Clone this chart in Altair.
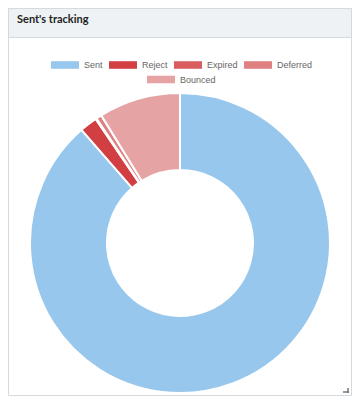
import altair as alt
import pandas as pd

categories = ["Sent", "Reject", "Expired", "Deferred", "Bounced"]
values = [886, 19, 1, 6, 88]
colors = ["#97c7ec", "#d13f42", "#d95c5f", "#df8081", "#e6a3a3"]
title_text = "Sent's tracking"

W, H = 344, 388

df = pd.DataFrame({"status": categories, "count": values, "idx": list(range(len(categories)))})
df2 = pd.DataFrame({"status2": [categories[-1]]})
bg = pd.DataFrame({"k": [0]})

rect_path = "M-1,-0.27H1V0.27H-1Z"

card = alt.Chart(bg).mark_rect(fill="white", stroke="#d3dbe1", strokeWidth=1).encode(
    x=alt.value(0.5), x2=alt.value(W - 0.5), y=alt.value(0.5), y2=alt.value(H - 0.5)
)
header = alt.Chart(bg).mark_rect(fill="#eef2f5", stroke="#d3dbe1", strokeWidth=1).encode(
    x=alt.value(0.5), x2=alt.value(W - 0.5), y=alt.value(0.5), y2=alt.value(29.5)
)
title = alt.Chart(bg).mark_text(
    text=title_text, font="Lato", fontSize=11, fontWeight="bold", color="#222222",
    align="left", baseline="middle"
).encode(x=alt.value(9), y=alt.value(12))

legend_common = dict(
    title=None, orient="none", direction="horizontal",
    symbolSize=784, symbolStrokeWidth=0,
    labelFont="Liberation Sans", labelFontSize=9, labelColor="#666666", labelOffset=5,
)

donut = alt.Chart(df).mark_arc(innerRadius=73, outerRadius=150, stroke="white", strokeWidth=2).encode(
    theta=alt.Theta("count:Q", stack=True),
    order=alt.Order("idx:Q"),
    color=alt.Color(
        "status:N",
        scale=alt.Scale(domain=categories, range=colors),
        sort=None,
        legend=alt.Legend(
            legendX=43, legendY=43, values=categories[:4], symbolType=rect_path,
            columnPadding=6, **legend_common,
        ),
    ),
    x=alt.value(172),
    y=alt.value(235),
)

extra = alt.Chart(df2).mark_point(filled=True, color=colors[-1], opacity=1, size=784).encode(
    shape=alt.Shape(
        "status2:N",
        scale=alt.Scale(domain=[categories[-1]], range=[rect_path]),
        legend=alt.Legend(
            legendX=139, legendY=57.5, symbolFillColor=colors[-1], **legend_common,
        ),
    ),
    x=alt.value(-500),
    y=alt.value(-500),
)

corner = alt.Chart(bg).mark_rule(color="#777777", strokeWidth=1.5).encode(
    x=alt.value(W - 4), y=alt.value(H - 8), y2=alt.value(H - 3)
)
corner2 = alt.Chart(bg).mark_rule(color="#777777", strokeWidth=1.5).encode(
    x=alt.value(W - 9), x2=alt.value(W - 3), y=alt.value(H - 4)
)

chart = alt.layer(card, header, title, donut, extra, corner, corner2).properties(
    width=W, height=H, autosize=alt.AutoSizeParams(type="none"), padding=0
).configure_view(stroke=None).resolve_legend(color="independent", shape="independent")

chart.save("out.html", embed_options={"renderer": "svg", "actions": False})
